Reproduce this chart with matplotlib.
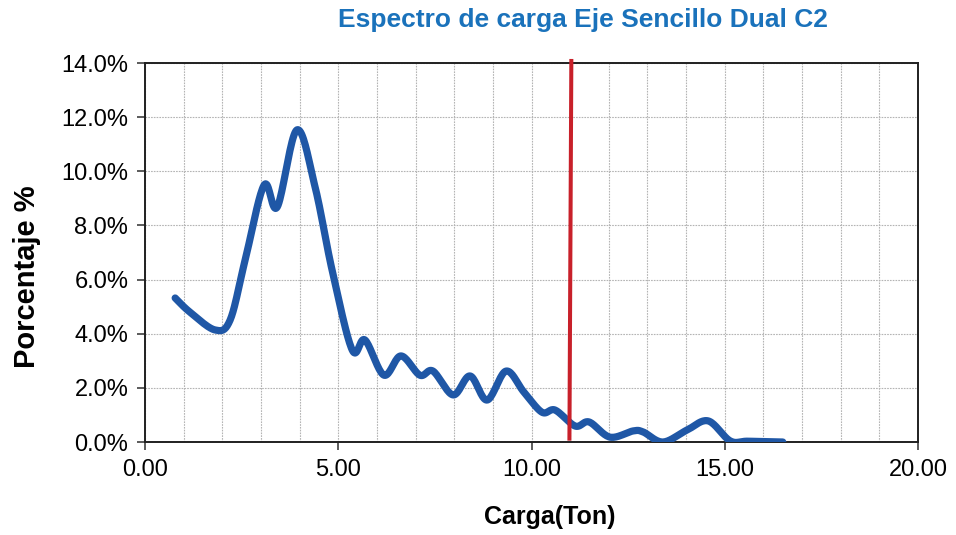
import numpy as np
import matplotlib
matplotlib.use('Agg')
import matplotlib.pyplot as plt
from matplotlib.ticker import FuncFormatter, MultipleLocator

plt.rcParams['font.family'] = ['Liberation Sans', 'DejaVu Sans']

# Curve: load (ton) and percentage (%)
carga = [0.78, 1.16, 1.81, 2.20, 2.59, 3.08, 3.42, 3.93, 4.40, 4.84, 5.36, 5.69,
         6.18, 6.62, 7.11, 7.45, 7.97, 8.41, 8.85, 9.34, 9.80, 10.27, 10.61,
         11.13, 11.49, 12.03, 12.63, 12.89, 13.40, 14.02, 14.57, 15.14, 15.60, 16.50]
porcentaje = [5.32, 4.80, 4.14, 4.50, 6.72, 9.49, 8.68, 11.53, 9.42, 6.35, 3.40, 3.77,
              2.47, 3.18, 2.47, 2.62, 1.74, 2.44, 1.55, 2.62, 1.85, 1.10, 1.18,
              0.59, 0.74, 0.18, 0.41, 0.37, 0.00, 0.44, 0.78, 0.04, 0.03, 0.00]

# vertical limit line (bottom point, top point)
limite_x = [10.98, 11.03]
limite_y = [0.05, 14.15]

title = 'Espectro de carga Eje Sencillo Dual C2'


def smooth(x, y, n=20):
    # parametric Catmull-Rom, like the smoothed line of a spreadsheet chart
    p = np.column_stack([x, y]).astype(float)
    p = np.vstack([p[0], p, p[-1]])
    out = []
    t = np.linspace(0, 1, n, endpoint=False)
    for i in range(1, len(p) - 2):
        p0, p1, p2, p3 = p[i - 1], p[i], p[i + 1], p[i + 2]
        tt = t[:, None]
        seg = 0.5 * ((2 * p1) + (-p0 + p2) * tt + (2 * p0 - 5 * p1 + 4 * p2 - p3) * tt ** 2
                     + (-p0 + 3 * p1 - 3 * p2 + p3) * tt ** 3)
        out.append(seg)
    out.append(p[-2][None, :])
    out = np.vstack(out)
    return out[:, 0], out[:, 1]


fig = plt.figure(figsize=(9.56, 5.35), dpi=100)
ax = fig.add_axes([0.1517, 0.1738, 0.8086, 0.7084])

sx, sy = smooth(carga, porcentaje)
ax.plot(sx, np.array(sy) / 100, color='#1f57a6', lw=5.2, solid_capstyle='round',
        solid_joinstyle='round', zorder=3)
ax.plot(limite_x, np.array(limite_y) / 100, color='#c8202a', lw=2.9, zorder=4,
        clip_on=False, solid_capstyle='butt')

ax.set_xlim(0, 20)
ax.set_ylim(0, 0.14)
ax.xaxis.set_major_locator(MultipleLocator(5))
ax.xaxis.set_minor_locator(MultipleLocator(1))
ax.yaxis.set_major_locator(MultipleLocator(0.02))
ax.xaxis.set_major_formatter(FuncFormatter(lambda v, p: '{:.2f}'.format(v)))
ax.yaxis.set_major_formatter(FuncFormatter(lambda v, p: '{:.1f}%'.format(v * 100)))

ax.grid(True, which='both', axis='x', color='#b4b4b4', ls=(0, (1.5, 1)), lw=0.8)
ax.grid(True, which='major', axis='y', color='#b4b4b4', ls=(0, (1.5, 1)), lw=0.8)
ax.set_axisbelow(True)

ax.tick_params(axis='both', which='major', labelsize=17, length=6, width=1.2,
               color='#404040', direction='out', pad=6)
ax.tick_params(axis='x', which='minor', length=0)
for s in ax.spines.values():
    s.set_linewidth(1.4)
    s.set_color('#202020')

fig.text(0.61, 0.963, title, color='#1a72bb', fontsize=19, fontweight='bold',
         ha='center', va='center')
fig.text(0.575, 0.033, 'Carga(Ton)', fontsize=18, fontweight='bold', ha='center',
         va='center')
fig.text(0.028, 0.482, 'Porcentaje %', fontsize=21, fontweight='bold', ha='center',
         va='center', rotation=90)

fig.savefig('out.png', dpi=100)
